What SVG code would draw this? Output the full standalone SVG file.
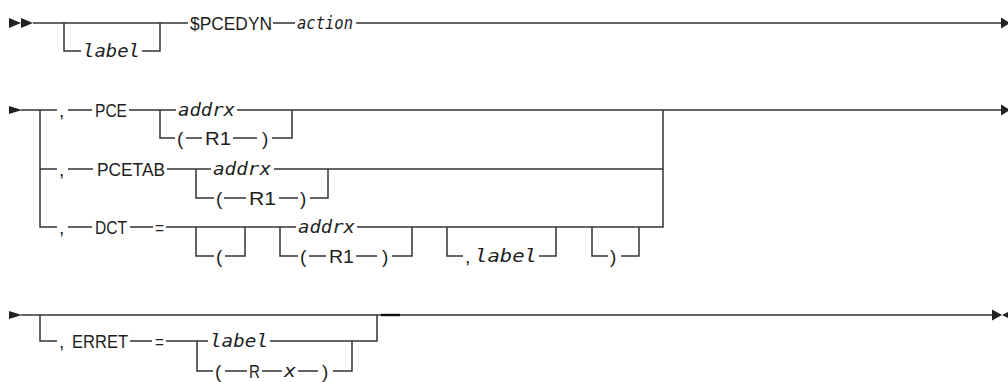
<svg xmlns="http://www.w3.org/2000/svg" width="1008" height="382" viewBox="0 0 1008 382">
<style>
.ln{stroke:#333;stroke-width:1.5;fill:none}
.ah{fill:#222}
.t{font-family:"Liberation Sans",Arial,sans-serif;font-size:19px;fill:#1e1e1e}
.i{font-family:"DejaVu Sans Mono","Liberation Mono",monospace;font-style:italic;font-size:18.5px;fill:#1e1e1e}
</style>
<rect width="1008" height="382" fill="#fff"/>
<g id="connectors">
  <!-- row 1 -->
  <polygon class="ah" points="9,18 21,23 9,28"/>
  <polygon class="ah" points="21,18 33,23 21,28"/>
  <path class="ln" d="M33 23 H188 M273 23 H295 M356 23 H1002 M64 23 V51 H81 M142 51 H160 V23"/>
  <polygon class="ah" points="1001,17.5 1010,23 1001,28.5"/>
  <!-- row 2 -->
  <polygon class="ah" points="9,106 22,110 9,114"/>
  <path class="ln" d="M21 110 H57 M68 110 H92 M129 110 H176 M237 110 H1002"/>
  <polygon class="ah" points="1001,104.5 1010,110 1001,115.5"/>
  <path class="ln" d="M40 110 V227 H57 M40 169 H57"/>
  <path class="ln" d="M160 110 V138 H175 M186 138 H202 M233 138 H257 M272 138 H292 V110"/>
  <path class="ln" d="M68 169 H93 M167 169 H211 M274 169 H663"/>
  <path class="ln" d="M196 169 V198 H214 M224 198 H246 M279 198 H298 M310 198 H328 V169"/>
  <path class="ln" d="M68 227 H92 M130 227 H153 M166 227 H296 M357 227 H663 V110"/>
  <path class="ln" d="M196 227 V256 H214 M225 256 H245 V227"/>
  <path class="ln" d="M280 227 V256 H298 M309 256 H326 M356 256 H377 M392 256 H412 V227"/>
  <path class="ln" d="M447 227 V256 H463 M539 256 H556 V227"/>
  <path class="ln" d="M592 227 V256 H608 M621 256 H639 V227"/>
  <!-- row 3 -->
  <polygon class="ah" points="9,311 22,315 9,319"/>
  <path class="ln" d="M21 315 H993"/>
  <path d="M381 315 H400" stroke="#111" stroke-width="2.4"/>
  <polygon class="ah" points="992,309.5 1002,315 992,320.5"/>
  <polygon class="ah" points="1002,315 1009,311.5 1009,318.5"/>
  <path class="ln" d="M40 315 V341 H57 M130 341 H152 M166 341 H208 M270 341 H377 V315"/>
  <path class="ln" d="M197 341 V371 H213 M225 371 H247 M262 371 H282 M298 371 H318 M333 371 H352 V341"/>
</g>
<g id="n-label1"><text class="i" x="83" y="57" textLength="57" lengthAdjust="spacingAndGlyphs">label</text></g>
<g id="n-pcedyn"><text class="t" x="190" y="30" textLength="82" lengthAdjust="spacingAndGlyphs">$PCEDYN</text></g>
<g id="n-action"><text class="i" x="297" y="29" textLength="56" lengthAdjust="spacingAndGlyphs">action</text></g>

<g id="n-pce"><text class="t" x="59" y="117">,</text><text class="t" x="95" y="117" textLength="32" lengthAdjust="spacingAndGlyphs">PCE</text></g>
<g id="n-pce-addrx"><text class="i" x="178" y="116" textLength="57" lengthAdjust="spacingAndGlyphs">addrx</text></g>
<g id="n-pce-r1"><text class="t" x="177" y="145">(</text><text class="t" x="205" y="145" textLength="26" lengthAdjust="spacingAndGlyphs">R1</text><text class="t" x="262" y="145">)</text></g>

<g id="n-pcetab"><text class="t" x="59" y="176">,</text><text class="t" x="97" y="176" textLength="68" lengthAdjust="spacingAndGlyphs">PCETAB</text></g>
<g id="n-pcetab-addrx"><text class="i" x="213" y="175" textLength="58" lengthAdjust="spacingAndGlyphs">addrx</text></g>
<g id="n-pcetab-r1"><text class="t" x="216" y="205">(</text><text class="t" x="249" y="205" textLength="27" lengthAdjust="spacingAndGlyphs">R1</text><text class="t" x="300" y="205">)</text></g>

<g id="n-dct"><text class="t" x="59" y="234">,</text><text class="t" x="95" y="234" textLength="32" lengthAdjust="spacingAndGlyphs">DCT</text><text class="t" x="155" y="234" textLength="9" lengthAdjust="spacingAndGlyphs">=</text></g>
<g id="n-dct-lparen"><text class="t" x="216" y="263">(</text></g>
<g id="n-dct-addrx"><text class="i" x="298" y="233" textLength="57" lengthAdjust="spacingAndGlyphs">addrx</text></g>
<g id="n-dct-r1"><text class="t" x="300" y="263">(</text><text class="t" x="329" y="263" textLength="25" lengthAdjust="spacingAndGlyphs">R1</text><text class="t" x="382" y="263">)</text></g>
<g id="n-dct-label"><text class="t" x="465" y="263">,</text><text class="i" x="475" y="262" textLength="62" lengthAdjust="spacingAndGlyphs">label</text></g>
<g id="n-dct-rparen"><text class="t" x="610" y="263">)</text></g>

<g id="n-erret"><text class="t" x="59" y="348">,</text><text class="t" x="72" y="348" textLength="56" lengthAdjust="spacingAndGlyphs">ERRET</text><text class="t" x="155" y="348" textLength="9" lengthAdjust="spacingAndGlyphs">=</text></g>
<g id="n-erret-label"><text class="i" x="210" y="347" textLength="58" lengthAdjust="spacingAndGlyphs">label</text></g>
<g id="n-erret-rx"><text class="t" x="215" y="378">(</text><text class="t" x="249" y="378" textLength="11" lengthAdjust="spacingAndGlyphs">R</text><text class="i" x="284" y="377" textLength="12" lengthAdjust="spacingAndGlyphs">x</text><text class="t" x="322" y="378">)</text></g>
</svg>
